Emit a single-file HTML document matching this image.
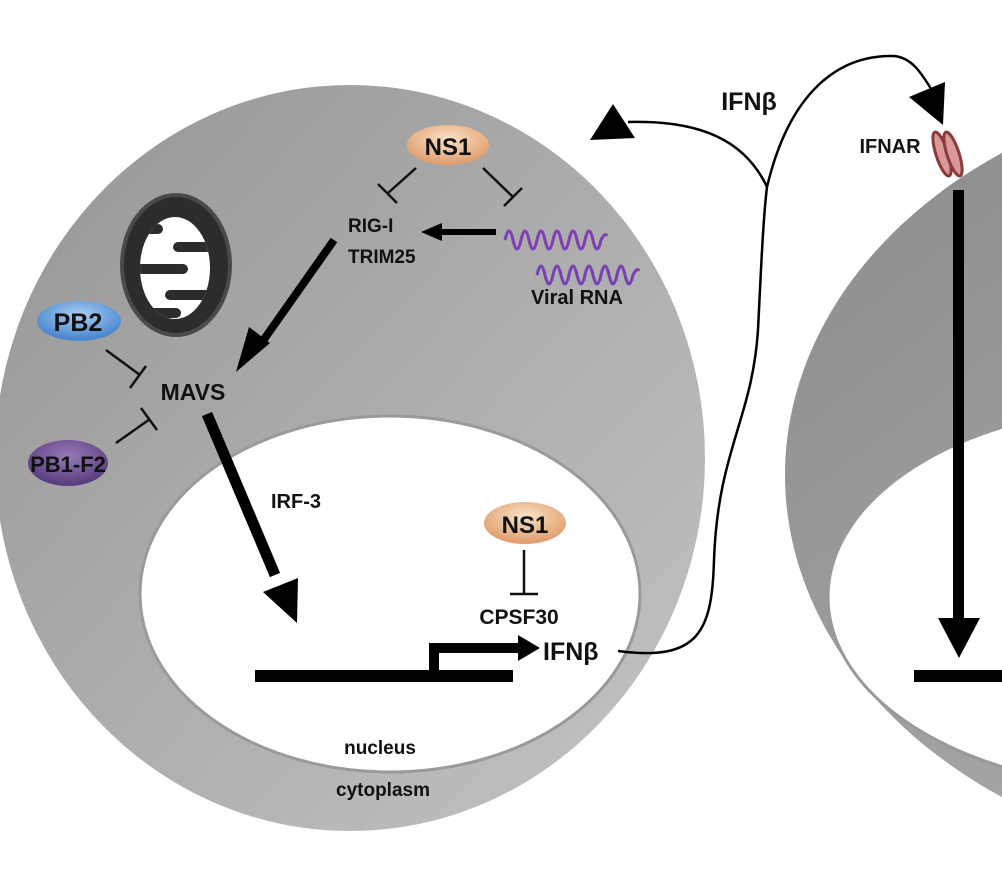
<!DOCTYPE html>
<html><head><meta charset="utf-8"><style>
html,body{margin:0;padding:0;background:#fff;}
svg{display:block;}
text{font-family:"Liberation Sans","DejaVu Sans",sans-serif;font-weight:bold;fill:#111;}
</style></head><body>
<svg width="1002" height="888" viewBox="0 0 1002 888" xmlns="http://www.w3.org/2000/svg">
<defs>
<linearGradient id="g1" x1="0" y1="0" x2="1" y2="1">
<stop offset="0" stop-color="#959595"/><stop offset="1" stop-color="#c4c4c4"/>
</linearGradient>
<linearGradient id="g2" x1="0" y1="0" x2="1" y2="1">
<stop offset="0" stop-color="#8a8a8a"/><stop offset="1" stop-color="#b8b8b8"/>
</linearGradient>
<radialGradient id="ns" cx="0.5" cy="0.35" r="0.6"><stop offset="0" stop-color="#fbe2c8"/><stop offset="1" stop-color="#e0a070"/></radialGradient>
<radialGradient id="pb2" cx="0.5" cy="0.35" r="0.6"><stop offset="0" stop-color="#a8d0f4"/><stop offset="1" stop-color="#4a86cf"/></radialGradient>
<radialGradient id="pb1" cx="0.5" cy="0.35" r="0.6"><stop offset="0" stop-color="#9a7ab8"/><stop offset="1" stop-color="#5a3f80"/></radialGradient>
<clipPath id="mc"><ellipse cx="175" cy="268" rx="35" ry="51"/></clipPath>
</defs>
<!-- cell 2 -->
<ellipse cx="1300" cy="475" rx="515" ry="395" fill="url(#g2)"/>
<ellipse cx="1150" cy="597" rx="322" ry="191" fill="#fff" stroke="#999" stroke-width="3"/>
<!-- cell 1 -->
<ellipse cx="350" cy="458" rx="355" ry="373" fill="url(#g1)"/>
<ellipse cx="390" cy="594" rx="250" ry="178" fill="#fff" stroke="#9a9a9a" stroke-width="3"/>
<!-- mito -->
<ellipse cx="176" cy="265" rx="54" ry="70" fill="#2c2c2c" stroke="#4a4a4a" stroke-width="4"/>
<ellipse cx="175" cy="268" rx="35" ry="51" fill="#fff"/>
<g stroke="#2c2c2c" stroke-width="10" stroke-linecap="round" fill="none" clip-path="url(#mc)">
<line x1="178" y1="247" x2="225" y2="247"/>
<line x1="125" y1="269" x2="183" y2="269"/>
<line x1="170" y1="295" x2="225" y2="295"/>
<line x1="125" y1="313" x2="176" y2="313"/>
<line x1="125" y1="229" x2="158" y2="229"/>
<line x1="187" y1="331" x2="225" y2="331"/>
</g>
<!-- NS1 top -->
<ellipse cx="448" cy="145" rx="41" ry="20" fill="url(#ns)"/>
<text x="448" y="155" font-size="24" text-anchor="middle">NS1</text>
<g stroke="#111" stroke-width="2.5" fill="none">
<line x1="416" y1="168" x2="388" y2="193"/><line x1="378" y1="184" x2="397" y2="203"/>
<line x1="483" y1="168" x2="513" y2="197"/><line x1="504" y1="206" x2="522" y2="188"/>
<line x1="106" y1="350" x2="140" y2="375"/><line x1="130" y1="388" x2="146" y2="366"/>
<line x1="116" y1="443" x2="150" y2="419"/><line x1="141" y1="408" x2="157" y2="430"/>
<line x1="524" y1="550" x2="524" y2="594"/><line x1="510" y1="594" x2="538" y2="594"/>
</g>
<text x="348" y="232" font-size="19">RIG-I</text>
<text x="348" y="263" font-size="19">TRIM25</text>
<line x1="496" y1="232" x2="440" y2="232" stroke="#000" stroke-width="6"/>
<polygon points="421,232 442,223 442,241" fill="#000"/>
<g stroke="#7a3fb0" stroke-width="3" fill="none">
<path d="M505,240 q4,-18 8,0 q4,18 8,0 q4,-18 8,0 q4,18 8,0 q4,-18 8,0 q4,18 8,0 q4,-18 8,0 q4,18 8,0 q4,-18 8,0 q4,18 8,0 q4,-18 8,0 q4,18 8,0 q4,-8 6,-4"/>
<path d="M537,275 q4,-18 8,0 q4,18 8,0 q4,-18 8,0 q4,18 8,0 q4,-18 8,0 q4,18 8,0 q4,-18 8,0 q4,18 8,0 q4,-18 8,0 q4,18 8,0 q4,-18 8,0 q4,18 8,0 q4,-8 6,-4"/>
</g>
<text x="577" y="304" font-size="20" text-anchor="middle">Viral RNA</text>
<line x1="334" y1="240" x2="260" y2="345" stroke="#000" stroke-width="8"/>
<polygon points="236,372 249,327 270,343" fill="#000"/>
<text x="193" y="400" font-size="23" text-anchor="middle">MAVS</text>
<ellipse cx="79" cy="321" rx="42" ry="20" fill="url(#pb2)"/>
<text x="78" y="331" font-size="25" text-anchor="middle">PB2</text>
<ellipse cx="68" cy="463" rx="40" ry="23" fill="url(#pb1)"/>
<text x="68" y="472" font-size="22" text-anchor="middle">PB1-F2</text>
<line x1="207" y1="414" x2="275" y2="575" stroke="#000" stroke-width="11"/>
<polygon points="297,623 263,592 298,578" fill="#000"/>
<text x="296" y="508" font-size="20" text-anchor="middle">IRF-3</text>
<ellipse cx="525" cy="523" rx="41" ry="21" fill="url(#ns)"/>
<text x="525" y="533" font-size="24" text-anchor="middle">NS1</text>
<text x="519" y="624" font-size="21" text-anchor="middle">CPSF30</text>
<rect x="255" y="670" width="258" height="12" fill="#000"/>
<path d="M434,670 V648 H522" stroke="#000" stroke-width="10" fill="none"/>
<polygon points="518,635 540,648 518,661" fill="#000"/>
<text x="543" y="660" font-size="25">IFNβ</text>
<text x="380" y="754" font-size="19" text-anchor="middle">nucleus</text>
<text x="383" y="796" font-size="19" text-anchor="middle">cytoplasm</text>
<g stroke="#000" stroke-width="2.5" fill="none">
<path d="M618,651 C700,662 712,630 714,560 C718,450 752,420 758,330 C761,270 763,220 767,187"/>
<path d="M767,187 C745,140 700,120 628,122"/>
<path d="M767,187 C790,90 840,55 893,56 C915,57 925,80 938,100"/>
</g>
<polygon points="590,140 613,104 635,138" fill="#000"/>
<polygon points="943,125 909,97 945,82" fill="#000"/>
<text x="749" y="110" font-size="25" text-anchor="middle">IFNβ</text>
<text x="890" y="153" font-size="20" text-anchor="middle">IFNAR</text>
<g fill="#d89a98" stroke="#8c3a3a" stroke-width="3">
<ellipse cx="942" cy="154" rx="6" ry="23" transform="rotate(-18 942 154)"/>
<ellipse cx="953" cy="154" rx="6" ry="23" transform="rotate(-18 953 154)"/>
</g>
<rect x="953" y="190" width="11" height="430" fill="#000"/>
<polygon points="938,618 980,618 959,658" fill="#000"/>
<rect x="914" y="670" width="88" height="12" fill="#000"/>
</svg>
</body></html>
